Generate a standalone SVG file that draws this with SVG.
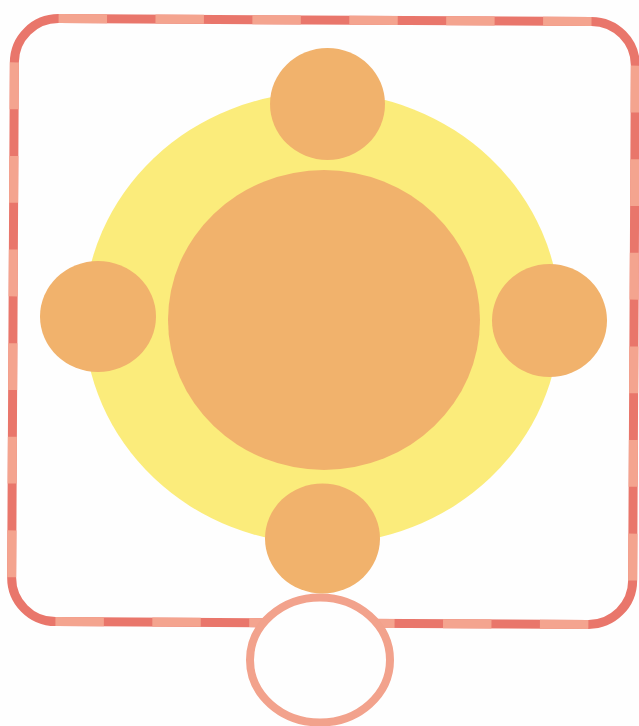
<svg xmlns="http://www.w3.org/2000/svg" width="639" height="726" viewBox="0 0 639 726">
  <style>
    .dark { fill: none; stroke: #e9766b; stroke-width: 9; }
    .light { fill: none; stroke: #f4a48f; stroke-width: 9; stroke-linecap: butt; }
    .h { stroke-dasharray: 48.45 48.45; }
    .v { stroke-dasharray: 46.8 46.8; }
    .orange { fill: #f1b26c; }
    .yellow { fill: #fbec7b; }
  </style>
  <rect width="639" height="726" fill="#fefefe"/>
  <g id="frame" transform="rotate(0.3 323 321)">
    <rect class="dark" x="13" y="20" width="621" height="603" rx="44" ry="44"/>
    <line class="light h" x1="57" y1="20" x2="590" y2="20"/>
    <line class="light h" x1="57" y1="623" x2="590" y2="623"/>
    <line class="light v" x1="13" y1="64" x2="13" y2="579"/>
    <line class="light v" x1="634" y1="64" x2="634" y2="579"/>
  </g>
  <g id="bottom-ring">
    <ellipse cx="320" cy="660" rx="70" ry="62.5" fill="#fefefe" stroke="#f2a28c" stroke-width="8"/>
  </g>
  <g id="halo">
    <ellipse class="yellow" cx="322" cy="318" rx="238" ry="226"/>
  </g>
  <g id="center">
    <ellipse class="orange" cx="324" cy="320" rx="156" ry="150"/>
  </g>
  <g id="top">
    <ellipse class="orange" cx="327.5" cy="104" rx="57.5" ry="56"/>
  </g>
  <g id="left">
    <ellipse class="orange" cx="98" cy="316.5" rx="58" ry="55.5"/>
  </g>
  <g id="right">
    <ellipse class="orange" cx="549.5" cy="320.5" rx="57.5" ry="56.5"/>
  </g>
  <g id="bottom">
    <ellipse class="orange" cx="322.5" cy="538.5" rx="57.5" ry="55"/>
  </g>
</svg>
